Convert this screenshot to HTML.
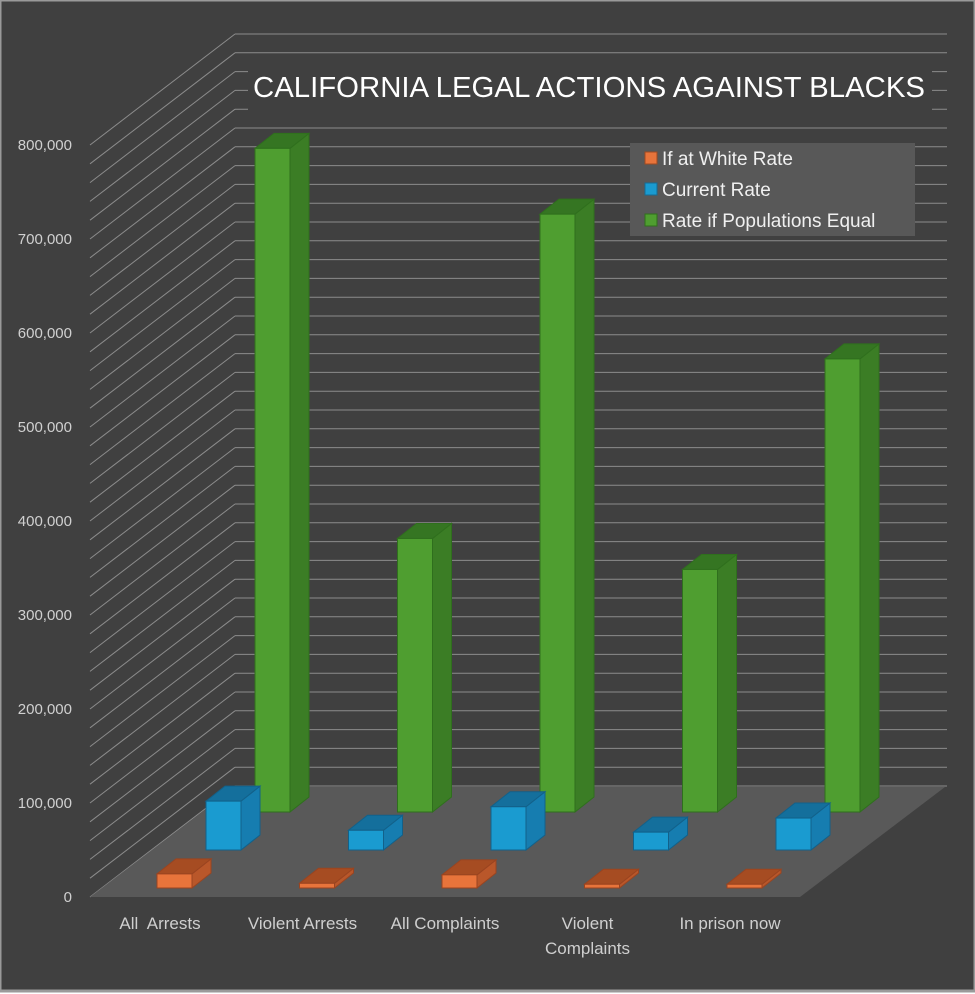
<!DOCTYPE html>
<html><head><meta charset="utf-8"><style>
html,body{margin:0;padding:0;background:#fff}
svg{display:block}
</style></head><body>
<svg width="975" height="994" viewBox="0 0 975 994" xmlns="http://www.w3.org/2000/svg">
<rect x="0" y="0" width="975" height="991" fill="#404040" stroke="#9a9a9a" stroke-width="3"/>
<g id="walls"></g>
<polygon points="90,897 800,897 945,787 235,787" fill="#595959"/>
<g id="bars"></g>
<g id="ylabels" font-family="Liberation Sans, sans-serif" font-size="15" fill="#d0d0d0" text-anchor="end"></g>
<g id="xlabels" font-family="Liberation Sans, sans-serif" font-size="17" fill="#cfcfcf" text-anchor="middle"></g>
<rect x="248" y="62" width="684" height="54" fill="#404040"/>
<text x="253" y="97" font-family="Liberation Sans, sans-serif" font-size="29" fill="#ffffff" textLength="672" lengthAdjust="spacingAndGlyphs">CALIFORNIA LEGAL ACTIONS AGAINST BLACKS</text>
<g>
<rect x="630" y="143" width="285" height="93" fill="#585858"/>
<g><rect x="645" y="152" width="12" height="12" fill="#e8743b" stroke="#a04a20"/><text x="662" y="165" font-family="Liberation Sans, sans-serif" font-size="19" fill="#f0f0f0">If at White Rate</text></g>
<g><rect x="645" y="183" width="12" height="12" fill="#1a9bd0" stroke="#156d96"/><text x="662" y="196" font-family="Liberation Sans, sans-serif" font-size="19" fill="#f0f0f0">Current Rate</text></g>
<g><rect x="645" y="214" width="12" height="12" fill="#4f9e30" stroke="#2f6f1d"/><text x="662" y="227" font-family="Liberation Sans, sans-serif" font-size="19" fill="#f0f0f0">Rate if Populations Equal</text></g>
</g>
</svg>
<script>
const categories = ["All\u00a0 Arrests", "Violent Arrests", "All Complaints", "Violent|Complaints", "In prison now"];
const whiteRate = [15000, 5000, 14000, 4000, 4000];
const currentRate = [52000, 21000, 46000, 19000, 34000];
const populationsEqual = [706000, 291000, 636000, 258000, 482000];
const yTicks = [0, 100000, 200000, 300000, 400000, 500000, 600000, 700000, 800000];
const yTickLabels = ["0", "100,000", "200,000", "300,000", "400,000", "500,000", "600,000", "700,000", "800,000"];

const NS = "http://www.w3.org/2000/svg";
const PX = 752 / 800000;
function yFront(v){ return 897 - v * PX; }
function yBack(v){ return 786 - v * PX; }
function mk(tag, attrs, parent){
  const e = document.createElementNS(NS, tag);
  for (const k in attrs) e.setAttribute(k, attrs[k]);
  parent.appendChild(e); return e;
}
const walls = document.getElementById('walls');
for (let v = 0; v <= 800000; v += 20000) {
  const l1 = mk('line', {x1:90, y1:yFront(v), x2:235, y2:yBack(v), stroke:'#8c8c8c', 'stroke-width':1}, walls);
  
  
  const l2 = mk('line', {x1:235, y1:yBack(v), x2:947, y2:yBack(v), stroke:'#8c8c8c', 'stroke-width':1}, walls);
  
  
}
const yl = document.getElementById('ylabels');
yTicks.forEach((v, i) => {
  const t = mk('text', {x:72, y:yFront(v) + 5}, yl);
  t.textContent = yTickLabels[i];
  
  
});
const series = [
  {vals: populationsEqual, front:'#4f9e30', side:'#3b7d25', top:'#357522', stroke:'#2f6f1d', name:'populations-equal'},
  {vals: currentRate, front:'#1a9bd0', side:'#167db0', top:'#146f9c', stroke:'#12618a', name:'current-rate'},
  {vals: whiteRate, front:'#e8743b', side:'#b9572a', top:'#a64c22', stroke:'#9a4420', name:'white-rate'}
];
const bars = document.getElementById('bars');
const STEP = 142.5, W = 35, DX = 19, DY = -15;
series.forEach((s, si) => {
  s.vals.forEach((v, ci) => {
    const x = 255 - 49 * si + ci * STEP;
    const yb = 812 + 38 * si;
    const yt = yb - v * PX;
    const g = mk('g', {}, bars);
    
    
    mk('polygon', {points:`${x+W},${yb} ${x+W+DX},${yb+DY} ${x+W+DX},${yt+DY} ${x+W},${yt}`, fill:s.side, stroke:s.stroke, 'stroke-width':1}, g);
    mk('polygon', {points:`${x},${yt} ${x+W},${yt} ${x+W+DX},${yt+DY} ${x+DX},${yt+DY}`, fill:s.top, stroke:s.stroke, 'stroke-width':1}, g);
    mk('rect', {x:x, y:yt, width:W, height:Math.max(yb-yt,0.5), fill:s.front, stroke:s.stroke, 'stroke-width':1}, g);
  });
});
const xl = document.getElementById('xlabels');
categories.forEach((c, i) => {
  const cx = 160 + i * STEP;
  const lines = c.split('|');
  lines.forEach((ln, li) => {
    const t = mk('text', {x:cx, y:929 + li * 25}, xl);
    t.textContent = ln;
    
    
  });
});
</script>
</body></html>
